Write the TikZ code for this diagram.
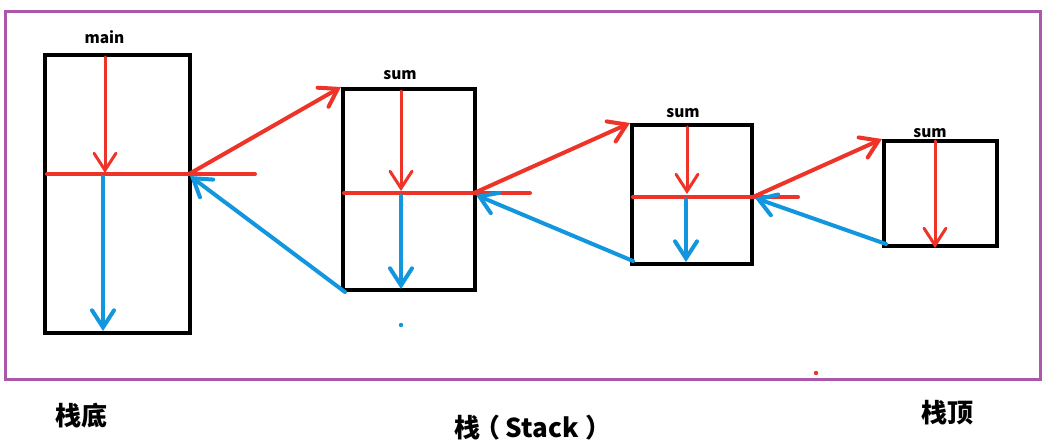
\documentclass[tikz,border=0pt]{standalone}
\usepackage{fontspec}
\newfontfamily\cjk{Noto Sans CJK SC}
\usetikzlibrary{arrows.meta}
\definecolor{myred}{RGB}{238,52,40}
\definecolor{myblue}{RGB}{18,150,222}
\definecolor{mypurple}{RGB}{170,88,170}
\tikzset{
  frame/.style={draw=black, line width=4pt, inner sep=0pt, fill=none},
  lbl/.style={font=\cjk\bfseries\fontsize{15.5}{15.5}\selectfont, inner sep=0pt},
  big/.style={font=\cjk\bfseries\fontsize{26}{26}\selectfont, inner sep=0pt},
  tip/.style={-{Straight Barb[length=17pt,width=22pt,line cap=round]}},
  redl/.style={draw=myred, line width=4pt, line cap=round},
  bluel/.style={draw=myblue, line width=4pt, line cap=round},
}
\begin{document}
\begin{tikzpicture}[x=1pt,y=-1pt]
\useasboundingbox (0,0) rectangle (1063,443);
\fill[white] (0,0) rectangle (1063,443);
\draw[draw=mypurple, line width=3pt] (5,12) rectangle (1040,380);

% boxes
\node[frame, minimum width=145pt, minimum height=278pt] (m) at (117.5,194) {};
\node[frame, minimum width=132pt, minimum height=201pt] (s1) at (409,189.5) {};
\node[frame, minimum width=120pt, minimum height=139pt] (s2) at (692,194.5) {};
\node[frame, minimum width=113pt, minimum height=105pt] (s3) at (940.5,193.5) {};

% labels
\node[lbl] (lm) at (104.5,37) {main};
\node[lbl] (l1) at (400,75) {sum};
\node[lbl] (l2) at (683,113) {sum};
\node[lbl] (l3) at (930,133) {sum};

% coordinates
\coordinate (mt) at (105,57);  \coordinate (mj) at (105,173);
\coordinate (mh1) at (47,174); \coordinate (mh2) at (255,174);
\coordinate (J0) at (189,174);
\coordinate (mb0) at (103,177); \coordinate (mb1) at (103,331);

\coordinate (s1t) at (401,91); \coordinate (s1j) at (401,191);
\coordinate (s1h1) at (344,193); \coordinate (s1h2) at (530,193);
\coordinate (J1) at (474,193);
\coordinate (s1b0) at (401,196); \coordinate (s1b1) at (401,289);
\coordinate (s1bl) at (345,292);

\coordinate (s2t) at (687,127); \coordinate (s2j) at (687,194);
\coordinate (s2h1) at (633,197); \coordinate (s2h2) at (798,197);
\coordinate (J2) at (753,197);
\coordinate (s2b0) at (686,200); \coordinate (s2b1) at (686,262);
\coordinate (s2bl) at (633,261);

\coordinate (s3t) at (935,141); \coordinate (s3j) at (935,248);
\coordinate (s3bl) at (886,244);

% main
\draw[redl, line width=3pt, tip] (mt) -- (mj);
\draw[redl] (mh1) -- (mh2);
\draw[bluel, tip] (mb0) -- (mb1);
\draw[redl, tip] (J0) -- (s1.north west);
\draw[bluel, tip] (s1bl) -- ([shift={(1,2)}]J0);

% sum 1
\draw[redl, line width=3pt, tip] (s1t) -- (s1j);
\draw[redl] (s1h1) -- (s1h2);
\draw[bluel, tip] (s1b0) -- (s1b1);
\draw[redl, tip] (J1) -- (s2.north west);
\draw[bluel, tip] (s2bl) -- ([shift={(2,2)}]J1);

% sum 2
\draw[redl, line width=3pt, tip] (s2t) -- (s2j);
\draw[redl] (s2h1) -- (s2h2);
\draw[bluel, tip] (s2b0) -- (s2b1);
\draw[redl, tip] (J2) -- (s3.north west);
\draw[bluel, tip] (s3bl) -- ([shift={(2,1)}]J2);

% sum 3
\draw[redl, line width=3pt, tip] (s3t) -- (s3j);

% stray dots
\fill[myblue] (401,325) circle (2.2pt);
\fill[myred] (816,373) circle (2.2pt);

% bottom texts
\node[big] (bot) at (81.5,415.5) {栈底};
\node[big] (stk) at (533,428) {栈\kern-0.25em（\kern0.2em Stack\kern0.25em）};
\node[big] (top) at (947.5,413) {栈顶};
\end{tikzpicture}
\end{document}
